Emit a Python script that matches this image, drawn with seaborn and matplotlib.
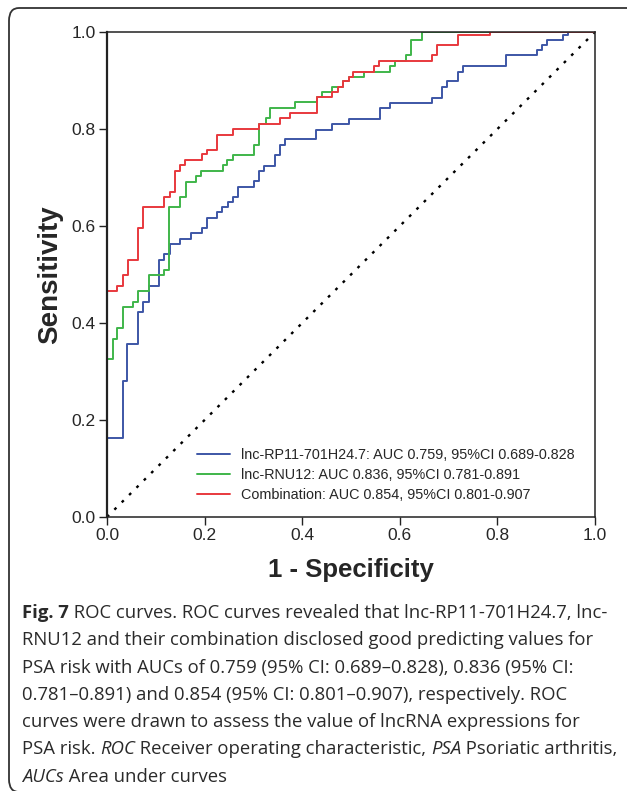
import matplotlib
matplotlib.use('Agg')
import matplotlib.pyplot as plt
from matplotlib.patches import FancyBboxPatch
import seaborn as sns
import pandas as pd

# ROC points (1 - specificity, sensitivity)
blue_fpr = [0, 0, 0.032, 0.042, 0.064, 0.074, 0.087, 0.107, 0.117, 0.129, 0.150, 0.172,
            0.194, 0.204, 0.226, 0.236, 0.247, 0.258, 0.269, 0.302, 0.312, 0.322, 0.344,
            0.355, 0.365, 0.428, 0.462, 0.495, 0.559, 0.580, 0.665, 0.687, 0.697, 0.720,
            0.730, 0.817, 0.881, 0.891, 0.902, 0.934, 0.945, 1.0]
blue_tpr = [0, 0.162, 0.281, 0.357, 0.422, 0.444, 0.476, 0.530, 0.542, 0.563, 0.573, 0.585,
            0.595, 0.617, 0.628, 0.639, 0.650, 0.660, 0.681, 0.692, 0.714, 0.724, 0.746,
            0.767, 0.779, 0.798, 0.810, 0.821, 0.843, 0.854, 0.863, 0.887, 0.898, 0.918,
            0.930, 0.952, 0.962, 0.974, 0.984, 0.994, 1.0, 1.0]

green_fpr = [0, 0, 0.012, 0.021, 0.032, 0.054, 0.064, 0.087, 0.117, 0.128, 0.150, 0.161,
             0.182, 0.193, 0.237, 0.245, 0.258, 0.302, 0.312, 0.326, 0.333, 0.385, 0.430,
             0.440, 0.462, 0.484, 0.495, 0.527, 0.580, 0.590, 0.612, 0.622, 0.645, 1.0]
green_tpr = [0, 0.325, 0.368, 0.390, 0.432, 0.444, 0.466, 0.498, 0.509, 0.639, 0.659, 0.691,
             0.703, 0.714, 0.725, 0.736, 0.746, 0.768, 0.810, 0.822, 0.843, 0.855, 0.865,
             0.877, 0.887, 0.898, 0.908, 0.918, 0.930, 0.940, 0.952, 0.984, 1.0, 1.0]

red_fpr = [0, 0, 0.021, 0.032, 0.044, 0.064, 0.074, 0.117, 0.129, 0.139, 0.150, 0.160,
           0.194, 0.204, 0.226, 0.259, 0.312, 0.355, 0.375, 0.430, 0.462, 0.474, 0.484,
           0.495, 0.505, 0.548, 0.558, 0.665, 0.677, 0.720, 0.785, 1.0]
red_tpr = [0, 0.465, 0.476, 0.498, 0.530, 0.595, 0.639, 0.659, 0.671, 0.714, 0.726, 0.736,
           0.748, 0.757, 0.788, 0.799, 0.810, 0.822, 0.832, 0.865, 0.876, 0.887, 0.898,
           0.908, 0.918, 0.930, 0.940, 0.952, 0.974, 0.994, 1.0, 1.0]

labels = ['lnc-RP11-701H24.7: AUC 0.759, 95%CI 0.689-0.828',
          'lnc-RNU12: AUC 0.836, 95%CI 0.781-0.891',
          'Combination: AUC 0.854, 95%CI 0.801-0.907']
colors = ['#3d56a6', '#3fb54a', '#e8383d']

ticks = [0.0, 0.2, 0.4, 0.6, 0.8, 1.0]

caption = [
    [('Fig. 7', 'bold', 'normal'), (' ROC curves. ROC curves revealed that lnc-RP11-701H24.7, lnc-', 'normal', 'normal')],
    [('RNU12 and their combination disclosed good predicting values for', 'normal', 'normal')],
    [('PSA risk with AUCs of 0.759 (95% CI: 0.689\u20130.828), 0.836 (95% CI:', 'normal', 'normal')],
    [('0.781\u20130.891) and 0.854 (95% CI: 0.801\u20130.907), respectively. ROC', 'normal', 'normal')],
    [('curves were drawn to assess the value of lncRNA expressions for', 'normal', 'normal')],
    [('PSA risk. ', 'normal', 'normal'), ('ROC', 'normal', 'italic'),
     (' Receiver operating characteristic, ', 'normal', 'normal'), ('PSA', 'normal', 'italic'),
     (' Psoriatic arthritis,', 'normal', 'normal')],
    [('AUCs', 'normal', 'italic'), (' Area under curves', 'normal', 'normal')],
]

df = pd.concat([
    pd.DataFrame({'fpr': blue_fpr, 'tpr': blue_tpr, 'curve': labels[0]}),
    pd.DataFrame({'fpr': green_fpr, 'tpr': green_tpr, 'curve': labels[1]}),
    pd.DataFrame({'fpr': red_fpr, 'tpr': red_tpr, 'curve': labels[2]}),
])

sns.set_theme(style='white')
plt.rcParams['font.family'] = ['Liberation Sans', 'DejaVu Sans']

W, H = 627, 791
fig = plt.figure(figsize=(W / 100, H / 100), dpi=100)
ax = fig.add_axes([107 / W, 1 - 517 / H, (595 - 107) / W, (517 - 32) / H])

# outer rounded frame (right and bottom edges fall off the picture)
frame = FancyBboxPatch((9 / W, 1 - 792 / H), (640 - 9) / W, (792 - 8) / H,
                       boxstyle='round,pad=0,rounding_size=0.016',
                       transform=fig.transFigure, facecolor='none',
                       edgecolor='#333333', linewidth=1.3)
fig.patches.append(frame)

ax.plot([0, 1], [0, 1], color='black', linestyle=(0, (1.2, 3.2)), linewidth=1.7, zorder=1)

sns.lineplot(data=df, x='fpr', y='tpr', hue='curve', hue_order=labels,
             palette=colors, estimator=None, sort=False, drawstyle='steps-post',
             linewidth=1.4, ax=ax)

ax.set_xlim(0, 1)
ax.set_ylim(0, 1)
ax.set_xticks(ticks)
ax.set_yticks(ticks)
ax.set_xticklabels(['%.1f' % t for t in ticks], fontsize=12.5)
ax.set_yticklabels(['%.1f' % t for t in ticks], fontsize=12.5)
ax.tick_params(axis='both', direction='out', length=6, width=1, color='#222222',
               bottom=True, left=True, pad=2)
for s in ax.spines.values():
    s.set_color('#222222')
    s.set_linewidth(1.1)
ax.spines['left'].set_linewidth(1.6)

ax.set_xlabel('1 - Specificity', fontsize=18.5, fontweight='bold', labelpad=11)
ax.set_ylabel('Sensitivity', fontsize=20, fontweight='bold', labelpad=6)

h, l = ax.get_legend_handles_labels()
ax.legend(h, l, loc='lower left', frameon=False, fontsize=10.4,
          handlelength=2.3, handletextpad=0.75, labelspacing=0.42,
          borderpad=0, borderaxespad=0, bbox_to_anchor=(0.184, 0.03))

# caption, one line at a time, mixed styles chained piece by piece
y0 = 1 - 622 / H
step = 27.3 / H
for i, pieces in enumerate(caption):
    prev = None
    for txt, wt, st in pieces:
        kw = dict(fontsize=13.3, fontweight=wt, fontstyle=st, color='#2a2a2a',
                  family=['Open Sans', 'DejaVu Sans'], va='bottom', ha='left')
        if prev is None:
            prev = fig.text(22 / W, y0 - i * step, txt, **kw)
        else:
            prev = ax.annotate(txt, xy=(1, 0), xycoords=prev, annotation_clip=False, **kw)

fig.savefig('out.png', dpi=100)
